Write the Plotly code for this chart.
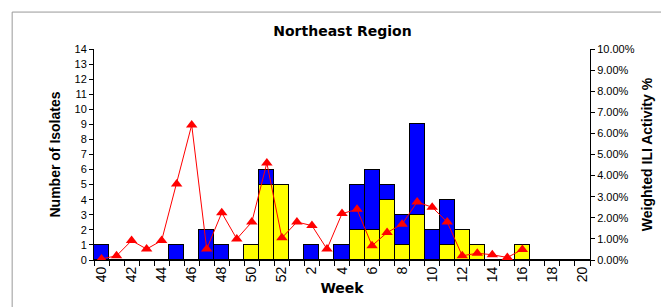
import plotly.graph_objects as go

weeks = [str(w) for w in list(range(40, 53)) + list(range(1, 21))]
tick_labels = [w if int(w) % 2 == 0 else "" for w in weeks]

# Influenza B (yellow, bottom) and Influenza A (blue, stacked on top)
flu_b = [0, 0, 0, 0, 0, 0, 0, 0, 0, 0, 1, 5, 5,
         0, 0, 0, 0, 2, 2, 4, 1, 3, 0, 1, 2, 1, 0, 0, 1, 0, 0, 0, 0]
flu_a = [1, 0, 0, 0, 0, 1, 0, 2, 1, 0, 0, 1, 0,
         0, 1, 0, 1, 3, 4, 1, 2, 6, 2, 3, 0, 0, 0, 0, 0, 0, 0, 0, 0]
ili_pct = [0.05, 0.2, 0.92, 0.52, 0.92, 3.6, 6.4, 0.52, 2.24, 1.0, 1.8, 4.6, 1.05,
           1.8, 1.63, 0.52, 2.2, 2.4, 0.68, 1.3, 1.7, 2.75, 2.5, 1.8, 0.2, 0.32,
           0.25, 0.12, 0.5, None, None, None, None]

font = "Liberation Sans, Arial, sans-serif"
wide = "DejaVu Sans, Liberation Sans, sans-serif"

fig = go.Figure()
fig.add_trace(go.Bar(x=weeks, y=flu_b, marker=dict(color="#FFFF00", line=dict(color="#000000", width=1)),
                     showlegend=False))
fig.add_trace(go.Bar(x=weeks, y=flu_a, marker=dict(color="#0000FF", line=dict(color="#000000", width=1)),
                     showlegend=False))
fig.add_trace(go.Scatter(x=weeks, y=ili_pct, yaxis="y2", mode="lines+markers",
                         line=dict(color="#FF0000", width=1),
                         marker=dict(symbol="triangle-up", size=10, color="#FF0000"),
                         showlegend=False, connectgaps=False))

fig.update_layout(
    width=669, height=307,
    margin=dict(l=86, r=87, t=41, b=55, autoexpand=False),
    paper_bgcolor="white", plot_bgcolor="white",
    barmode="stack", bargap=0,
    font=dict(family=font, color="#000000", size=11),
    title=dict(text="<b>Northeast Region</b>", x=0.5, xanchor="center", y=0.925, yanchor="middle",
               font=dict(size=14, family=wide)),
    xaxis=dict(type="category", tickmode="array", tickvals=weeks, ticktext=tick_labels,
               range=[-0.5, len(weeks) - 0.5], autorange=False, automargin=False,
               tickson="boundaries", ticks="outside", ticklen=5, tickcolor="#000",
               tickangle=-90, tickfont=dict(size=14),
               showline=True, linecolor="#000", linewidth=1, showgrid=False,
               title=dict(text="<b>Week</b>", font=dict(size=14, family=wide), standoff=2)),
    yaxis=dict(range=[0, 14], dtick=1, ticks="outside", ticklen=4, tickcolor="#000",
               showline=True, linecolor="#000", showgrid=False, zeroline=False, automargin=False,
               tickfont=dict(size=11),
               title=dict(text="<b>Number of Isolates</b>", font=dict(size=14), standoff=10)),
    yaxis2=dict(range=[0, 10], dtick=1, overlaying="y", side="right", ticks="outside", ticklen=4,
                tickcolor="#000", showline=True, linecolor="#000", showgrid=False, zeroline=False,
                automargin=False,
                tickformat=".2f", ticksuffix="%", tickfont=dict(size=11),
                title=dict(text="<b>Weighted ILI Activity %</b>", font=dict(size=14), standoff=8)),
    shapes=[dict(type="rect", xref="paper", yref="paper", x0=-0.165, x1=1.168, y0=-0.245, y1=1.175,
                 line=dict(color="#999999", width=1), fillcolor="rgba(0,0,0,0)", layer="below")],
)

fig.write_html("out.html")
